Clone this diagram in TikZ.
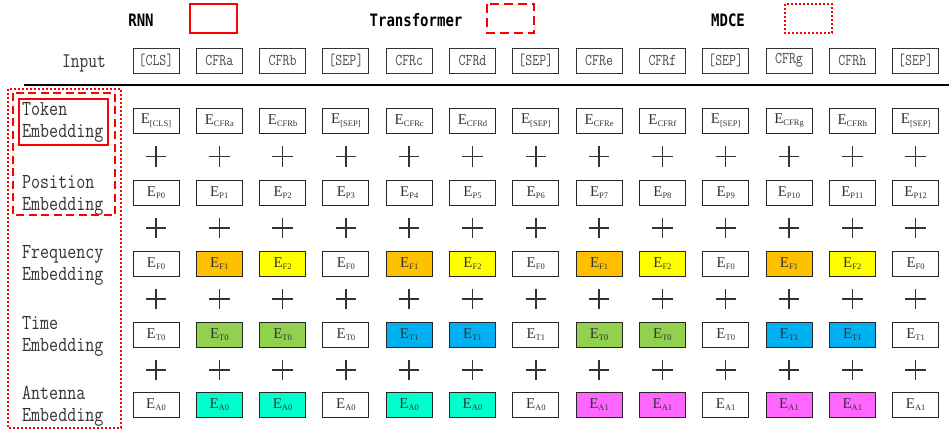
\documentclass[tikz,border=0pt]{standalone}
\usepackage{graphicx}
\usepackage{fontspec}
\newfontfamily\tnr{Liberation Serif}
\newfontfamily\legfont{DejaVu Sans Mono}
\definecolor{forange}{HTML}{FFC000}
\definecolor{fyellow}{HTML}{FFFF00}
\definecolor{tgreen}{HTML}{92D050}
\definecolor{tblue}{HTML}{00B0F0}
\definecolor{acyan}{HTML}{00FFCC}
\definecolor{amag}{HTML}{FF66FF}
\definecolor{txtgray}{HTML}{333333}
\definecolor{ingray}{HTML}{4A4A4A}
\newcommand{\Esub}[1]{E\raisebox{-0.35ex}{\fontsize{8.5}{8.5}\selectfont #1}}
\newcommand{\talltxt}[1]{\scalebox{1}[1.22]{#1}}
\begin{document}
\begin{tikzpicture}[x=1pt,y=-1pt,
  embox/.style={draw=black!85,line width=0.9pt,minimum width=46pt,minimum height=25pt,inner sep=0pt,
     font=\tnr\fontsize{15}{15}\selectfont,text=txtgray},
  inbox/.style={draw=black!80,line width=0.9pt,minimum width=46pt,minimum height=25pt,inner sep=0pt,
     font=\ttfamily\fontsize{13.5}{14}\selectfont,text=ingray},
  plusn/.style={minimum size=20pt,inner sep=0pt},
  plusline/.style={line width=1.5pt,draw=black!80},
  lab/.style={anchor=west,align=left,inner sep=0pt,font=\ttfamily\fontsize{17.5}{22}\selectfont,text=txtgray},
  legtxt/.style={font=\legfont\bfseries\fontsize{14}{14}\selectfont,inner sep=0pt},
  redsolid/.style={draw=red,line width=2pt},
  reddash/.style={draw=red,line width=2pt,dash pattern=on 9pt off 5pt},
  reddot/.style={draw=red,line width=2pt,dash pattern=on 2pt off 2pt},
]
\useasboundingbox (0,0) rectangle (949,434);

% legend
\node[legtxt] (lrnn) at (141,20) {\talltxt{RNN}};
\node[legtxt] (ltr) at (416,20) {\talltxt{Transformer}};
\node[legtxt] (lmd) at (728,20) {\talltxt{MDCE}};
\draw[redsolid] (190,4) rectangle (237,33);
\draw[reddash] (487,4) rectangle (534,33);
\draw[reddot] (785,4) rectangle (832,33);

% input row
\node[font=\ttfamily\fontsize{17}{20}\selectfont,text=txtgray,inner sep=0pt] (inlab) at (84,63) {\talltxt{Input}};
\foreach \t [count=\i from 0] in {{[CLS]},CFRa,CFRb,{[SEP]},CFRc,CFRd,{[SEP]},CFRe,CFRf,{[SEP]},CFRg,CFRh,{[SEP]}}{
  \node[inbox] (in\i) at (156+63.3*\i,60.5) {\talltxt{\t}};
}
\draw[line width=2pt] (24,85) -- (949,85);

% token row
\foreach \t [count=\i from 0] in {{[CLS]},CFRa,CFRb,{[SEP]},CFRc,CFRd,{[SEP]},CFRe,CFRf,{[SEP]},CFRg,CFRh,{[SEP]}}{
  \node[embox] (tok\i) at (156+63.3*\i,120.5) {\Esub{\t}};
}
% position row
\foreach \i in {0,...,12}{
  \node[embox] (pos\i) at (156+63.3*\i,192.5) {\Esub{P\i}};
}
% frequency row
\foreach \t/\c [count=\i from 0] in {F0/white,F1/forange,F2/fyellow,F0/white,F1/forange,F2/fyellow,F0/white,F1/forange,F2/fyellow,F0/white,F1/forange,F2/fyellow,F0/white}{
  \node[embox,fill=\c] (fr\i) at (156+63.3*\i,263.5) {\Esub{\t}};
}
% time row
\foreach \t/\c [count=\i from 0] in {T0/white,T0/tgreen,T0/tgreen,T0/white,T1/tblue,T1/tblue,T1/white,T0/tgreen,T0/tgreen,T0/white,T1/tblue,T1/tblue,T1/white}{
  \node[embox,fill=\c] (tm\i) at (156+63.3*\i,334.5) {\Esub{\t}};
}
% antenna row
\foreach \t/\c [count=\i from 0] in {A0/white,A0/acyan,A0/acyan,A0/white,A0/acyan,A0/acyan,A0/white,A1/amag,A1/amag,A1/white,A1/amag,A1/amag,A1/white}{
  \node[embox,fill=\c] (an\i) at (156+63.3*\i,404.5) {\Esub{\t}};
}
% plus signs
\foreach \r/\y in {a/156.5,b/228,c/299,d/370}{
  \foreach \i in {0,...,12}{
    \node[plusn] (p\r\i) at (156+63.3*\i,\y) {};
    \draw[plusline] (p\r\i.west) -- (p\r\i.east) (p\r\i.north) -- (p\r\i.south);
  }
}

% left labels
\node[lab] (lab1) at (22,122) {\talltxt{Token}\\\talltxt{Embedding}};
\node[lab] (lab2) at (22,195) {\talltxt{Position}\\\talltxt{Embedding}};
\node[lab] (lab3) at (22,265) {\talltxt{Frequency}\\\talltxt{Embedding}};
\node[lab] (lab4) at (22,336) {\talltxt{Time}\\\talltxt{Embedding}};
\node[lab] (lab5) at (22,406) {\talltxt{Antenna}\\\talltxt{Embedding}};

% red frames
\draw[redsolid] (19,99) rectangle (108,145);
\draw[reddash,dash pattern=on 8pt off 4.5pt] (13,93) rectangle (115,215);
\draw[reddot] (8,89) rectangle (121,428);
\end{tikzpicture}
\end{document}
